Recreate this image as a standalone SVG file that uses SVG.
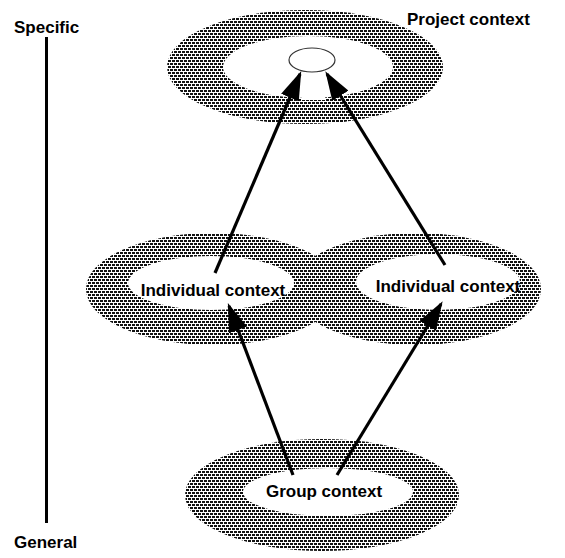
<svg xmlns="http://www.w3.org/2000/svg" width="565" height="558" viewBox="0 0 565 558">
<style>
.lbl{font-family:"Liberation Sans",Arial,sans-serif;font-weight:bold;font-size:17px;fill:#000}
.ring{fill:url(#stip)}
.hole{fill:#fff}
.conn{stroke:#000;stroke-width:3.2;fill:none;marker-end:url(#ah)}
</style>
<defs>
<pattern id="stip" width="4" height="6" patternUnits="userSpaceOnUse">
<rect width="4" height="6" fill="#fff"/>
<rect x="0" y="0" width="3" height="2" fill="#111"/>
<rect x="2" y="3" width="3" height="2" fill="#111"/>
<rect x="-2" y="3" width="3" height="2" fill="#111"/>
</pattern>
<marker id="ah" markerWidth="9" markerHeight="6" refX="8" refY="3" orient="auto" markerUnits="strokeWidth">
<path d="M0,0 L9,3 L0,6 Z" fill="#000"/>
</marker>
</defs>
<g id="axis">
<line x1="46.5" y1="37" x2="46.5" y2="523" stroke="#000" stroke-width="3"/>
<text class="lbl" x="14" y="33">Specific</text>
<text class="lbl" x="14" y="548">General</text>
</g>
<g id="project">
<ellipse class="ring" cx="305" cy="67" rx="138" ry="57"/>
<ellipse class="hole" cx="308" cy="67" rx="85" ry="31"/>
<rect class="hole" x="302" y="70" width="23" height="30"/>
<ellipse cx="312" cy="60" rx="23" ry="12" fill="#fff" stroke="#333" stroke-width="1.2"/>
<text class="lbl" x="407" y="25">Project context</text>
</g>
<g id="individual1">
<ellipse class="ring" cx="213" cy="289" rx="127" ry="56"/>
</g>
<g id="individual2">
<ellipse class="ring" cx="416" cy="289" rx="125" ry="56"/>
<ellipse class="hole" cx="438" cy="282" rx="82" ry="28"/>
<text class="lbl" x="448" y="292" text-anchor="middle">Individual context</text>
</g>
<g id="individual1-inner">
<ellipse class="hole" cx="211" cy="283" rx="83" ry="27"/>
<text class="lbl" x="213" y="296" text-anchor="middle">Individual context</text>
</g>
<g id="group">
<ellipse class="ring" cx="322" cy="495" rx="137" ry="56"/>
<ellipse class="hole" cx="328" cy="492" rx="85" ry="24"/>
<text class="lbl" x="324" y="497" text-anchor="middle">Group context</text>
</g>
<g id="connectors">
<line class="conn" x1="215" y1="273" x2="300" y2="74"/>
<line class="conn" x1="445" y1="265" x2="327" y2="74"/>
<line class="conn" x1="293" y1="475" x2="229" y2="306"/>
<line class="conn" x1="337" y1="475" x2="441" y2="304"/>
</g>
</svg>
